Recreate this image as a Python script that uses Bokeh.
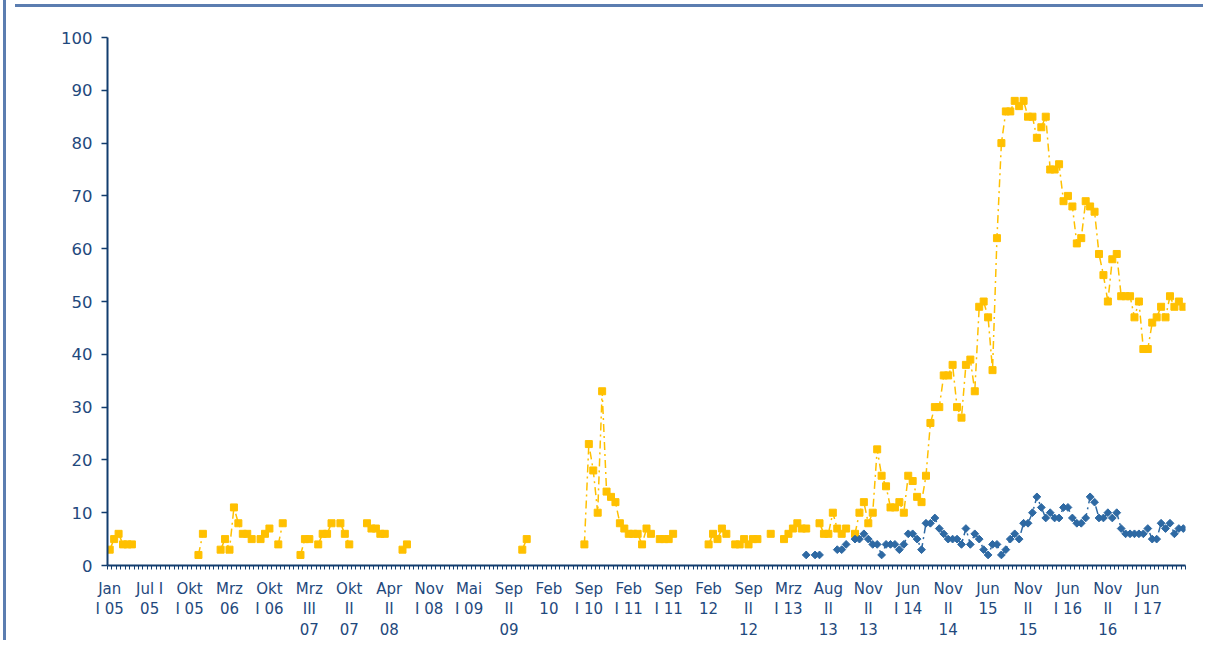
from bokeh.plotting import figure
from bokeh.models import FixedTicker, Range1d, ColumnDataSource, Div
from bokeh.layouts import row, column
from bokeh.embed import file_html
from bokeh.resources import INLINE
import numpy as np

N_ = None
# Series 1 (gold, squares), one value per survey period, None = no value
gold = [
    3, 5, 6, 4, 4, 4, N_, N_, N_, N_,
    N_, N_, N_, N_, N_, N_, N_, N_, N_, N_,
    2, 6, N_, N_, N_, 3, 5, 3, 11, 8,
    6, 6, 5, N_, 5, 6, 7, N_, 4, 8,
    N_, N_, N_, 2, 5, 5, N_, 4, 6, 6,
    8, N_, 8, 6, 4, N_, N_, N_, 8, 7,
    7, 6, 6, N_, N_, N_, 3, 4, N_, N_,
    N_, N_, N_, N_, N_, N_, N_, N_, N_, N_,
    N_, N_, N_, N_, N_, N_, N_, N_, N_, N_,
    N_, N_, N_, 3, 5, N_, N_, N_, N_, N_,
    N_, N_, N_, N_, N_, N_, N_, 4, 23, 18,
    10, 33, 14, 13, 12, 8, 7, 6, 6, 6,
    4, 7, 6, N_, 5, 5, 5, 6, N_, N_,
    N_, N_, N_, N_, N_, 4, 6, 5, 7, 6,
    N_, 4, 4, 5, 4, 5, 5, N_, N_, 6,
    N_, N_, 5, 6, 7, 8, 7, 7, N_, N_,
    8, 6, 6, 10, 7, 6, 7, N_, 6, 10,
    12, 8, 10, 22, 17, 15, 11, 11, 12, 10,
    17, 16, 13, 12, 17, 27, 30, 30, 36, 36,
    38, 30, 28, 38, 39, 33, 49, 50, 47, 37,
    62, 80, 86, 86, 88, 87, 88, 85, 85, 81,
    83, 85, 75, 75, 76, 69, 70, 68, 61, 62,
    69, 68, 67, 59, 55, 50, 58, 59, 51, 51,
    51, 47, 50, 41, 41, 46, 47, 49, 47, 51,
    49, 50, 49,
]

# Series 2 (blue, diamonds) - starts in 2013
blue_start = 157
blue_vals = [
    2, N_, 2, 2, N_, N_, N_, 3, 3, 4, N_, 5, 5,
    6, 5, 4, 4, 2, 4, 4, 4, 3, 4,
    6, 6, 5, 3, 8, 8, 9, 7, 6, 5,
    5, 5, 4, 7, 4, 6, 5, 3, 2, 4,
    4, 2, 3, 5, 6, 5, 8, 8, 10, 13,
    11, 9, 10, 9, 9, 11, 11, 9, 8, 8,
    9, 13, 12, 9, 9, 10, 9, 10, 7, 6,
    6, 6, 6, 6, 7, 5, 5, 8, 7, 8,
    6, 7, 7,
]
blue = [N_] * blue_start + blue_vals

tick_labels = [
    "Jan\nI 05", "Jul I\n05", "Okt\nI 05", "Mrz\n06", "Okt\nI 06",
    "Mrz\nIII\n07", "Okt\nII\n07", "Apr\nII\n08", "Nov\nI 08", "Mai\nI 09",
    "Sep\nII\n09", "Feb\n10", "Sep\nI 10", "Feb\nI 11", "Sep\nI 11",
    "Feb\n12", "Sep\nII\n12", "Mrz\nI 13", "Aug\nII\n13", "Nov\nII\n13",
    "Jun\nI 14", "Nov\nII\n14", "Jun\n15", "Nov\nII\n15", "Jun\nI 16",
    "Nov\nII\n16", "Jun\nI 17",
]
label_step = 9
y_ticks = [0, 10, 20, 30, 40, 50, 60, 70, 80, 90, 100]

GOLD = "#FFC000"
BLUE = "#2E69A3"
NAVY = "#123D6E"
TEXT = "#1F497D"
FRAME = "#5B7DB0"

n = len(gold)
xs = np.arange(n)
g = np.array([np.nan if v is None else v for v in gold], dtype=float)
b = np.array([np.nan if v is None else v for v in blue], dtype=float)

p = figure(frame_width=1078, frame_height=528,
           min_border_left=100, min_border_right=20,
           min_border_top=29, min_border_bottom=75,
           x_range=Range1d(-0.5, n - 0.5), y_range=Range1d(0, 100),
           output_backend="svg", toolbar_location=None, margin=0)
p.outline_line_color = None
p.xgrid.visible = False
p.ygrid.visible = False
p.background_fill_color = "white"
p.border_fill_color = "white"

src_g = ColumnDataSource(dict(x=xs, y=g))
src_b = ColumnDataSource(dict(x=xs, y=b))

p.line("x", "y", source=src_g, line_color=GOLD, line_width=1.5, line_dash="8 4 2 4")
p.scatter("x", "y", source=src_g, marker="square", size=7,
          fill_color=GOLD, line_color=GOLD)
p.line("x", "y", source=src_b, line_color=BLUE, line_width=1.5, line_dash="8 4 2 4")
p.scatter("x", "y", source=src_b, marker="square", angle=np.pi / 4, size=5.5,
          fill_color=BLUE, line_color=BLUE)

# y axis
ya = p.yaxis[0]
ya.ticker = FixedTicker(ticks=y_ticks)
ya.axis_line_color = NAVY
ya.axis_line_width = 2
ya.major_tick_line_color = NAVY
ya.major_tick_line_width = 1.5
ya.major_tick_out = 6
ya.major_tick_in = 0
ya.minor_tick_out = 0
ya.minor_tick_in = 0
ya.major_label_text_font = "DejaVu Sans"
ya.major_label_text_font_size = "16.5px"
ya.major_label_text_color = TEXT
ya.major_label_standoff = 9

# x axis
xa = p.xaxis[0]
label_pos = [i * label_step for i in range(len(tick_labels))]
xa.ticker = FixedTicker(ticks=label_pos,
                        minor_ticks=[i - 0.5 for i in range(n + 1)])
xa.major_label_overrides = {pos: lab for pos, lab in zip(label_pos, tick_labels)}
xa.axis_line_color = NAVY
xa.axis_line_width = 2
xa.major_tick_out = 0
xa.major_tick_in = 0
xa.major_tick_line_color = None
xa.minor_tick_out = 4
xa.minor_tick_in = 0
xa.minor_tick_line_color = NAVY
xa.minor_tick_line_width = 1
xa.major_label_text_font = "DejaVu Sans"
xa.major_label_text_font_size = "15px"
xa.major_label_text_color = TEXT
xa.major_label_standoff = 10
xa.major_label_text_line_height = 1.15

# decorative frame lines (left and top), as in the source slide
left_bar = Div(text='<div style="margin-left:3px;width:3px;height:640px;'
                    'background:%s"></div>' % FRAME,
               width=7, height=640, margin=0)
top_bar = Div(text="", width=1188, height=3, margin=(4, 3, 1, 8),
              styles={"background-color": FRAME})

layout = row(left_bar, column(top_bar, p, spacing=0, margin=0), spacing=0, margin=0)

open("out.html", "w").write(file_html(layout, INLINE))
